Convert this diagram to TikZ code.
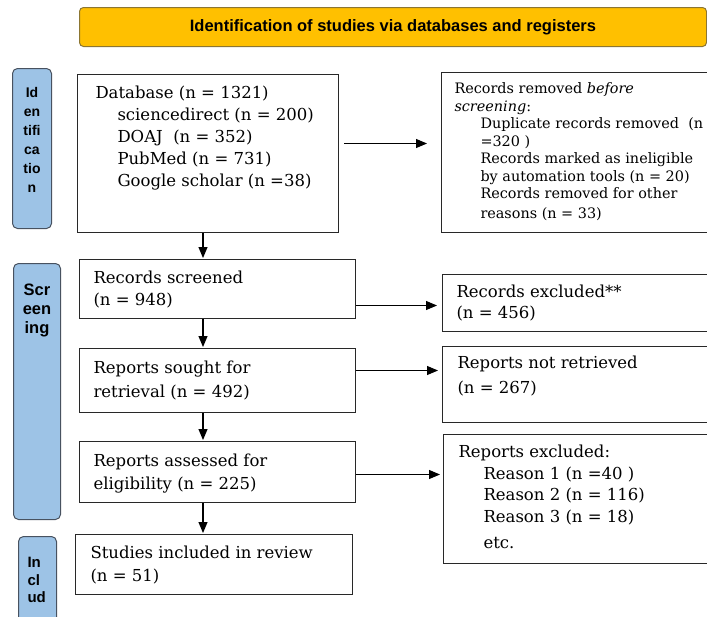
\documentclass[tikz,border=0pt]{standalone}
\usepackage{fontspec}
\setmainfont{DejaVu Serif}
\newfontfamily\labelfont{Liberation Sans}
\usetikzlibrary{arrows.meta}

\definecolor{headfill}{RGB}{255,192,0}
\definecolor{headline}{RGB}{140,118,50}
\definecolor{phasefill}{RGB}{157,195,230}
\definecolor{phaseline}{RGB}{72,82,96}
\definecolor{boxline}{RGB}{40,40,40}

\newcommand{\boxlines}[3]{\parbox[t][#2][t]{#1}{\raggedright\rule{0pt}{13pt}#3}}
\newcommand{\phaselines}[3]{\parbox[t][#2][t]{#1}{\centering\rule{0pt}{11pt}#3}}

\tikzset{
  headbox/.style={draw=headline, fill=headfill, line width=1pt, rounded corners=4pt,
    anchor=north west, inner sep=0pt, font=\labelfont\bfseries\fontsize{16.5}{20}\selectfont},
  phasebox/.style={draw=phaseline, fill=phasefill, line width=1pt, rounded corners=5pt,
    anchor=north west, inner xsep=0pt},
  flowbox/.style={draw=boxline, line width=1pt, anchor=north west,
    font=\fontsize{16.5}{22}\selectfont},
  flow/.style={-{Triangle[length=11pt,width=9pt]}, line width=1.1pt},
}

\begin{document}
\begin{tikzpicture}[x=1pt, y=-1pt]
    \useasboundingbox (0,0) rectangle (707,616);
    \clip (0,0) rectangle (707,616);
    \node [headbox, minimum width=627pt, minimum height=39pt] (head) at (79,7)
        {Identification of studies via databases and registers};
    \node [phasebox, inner ysep=18pt, font=\labelfont\bfseries\fontsize{14}{19}\selectfont] (ident) at (12,68)
        {\phaselines{39pt}{124pt}{Id\\en\\tifi\\ca\\tio\\n}};
    \node [phasebox, inner ysep=20pt, font=\labelfont\bfseries\fontsize{16.5}{19}\selectfont] (screen) at (13,263)
        {\phaselines{47pt}{216pt}{Scr\\een\\ing}};
    \node [phasebox, inner xsep=9pt, inner ysep=20pt, font=\labelfont\bfseries\fontsize{15}{17.5}\selectfont] (incl) at (18,536)
        {\phaselines{20pt}{54pt}{\raggedright In\\cl\\ud}};
    \node [flowbox, inner xsep=18pt, inner ysep=11pt] (db) at (77,74)
        {\boxlines{225pt}{136pt}{Database (n = 1321)\\
            \hspace*{22pt}sciencedirect (n = 200)\\
            \hspace*{22pt}DOAJ\ \ (n = 352)\\
            \hspace*{22pt}PubMed (n = 731)\\
            \hspace*{22pt}Google scholar (n =38)}};
    \node [flowbox, inner xsep=13pt, inner ysep=10pt, font=\fontsize{14.4}{17.5}\selectfont] (removed) at (441,72)
        {\parbox[t][140pt][t]{253pt}{\raggedright\rule{0pt}{11pt}Records removed \textit{before}\\
            \textit{screening}:\\
            \hspace*{26pt}Duplicate records removed\ \ (n\\
            \hspace*{26pt}=320 )\\
            \hspace*{26pt}Records marked as ineligible\\
            \hspace*{26pt}by automation tools (n = 20)\\
            \hspace*{26pt}Records removed for other\\[2.5pt]
            \hspace*{26pt}reasons (n = 33)}};
    \node [flowbox, inner xsep=14pt, inner ysep=11pt] (screened) at (79,259)
        {\boxlines{248pt}{37pt}{Records screened\\(n = 948)}};
    \node [flowbox, inner xsep=14pt, inner ysep=12pt] (sought) at (79,348)
        {\boxlines{248pt}{40pt}{Reports sought for\\[2pt]retrieval (n = 492)}};
    \node [flowbox, inner xsep=14pt, inner ysep=12pt] (assessed) at (79,441)
        {\boxlines{248pt}{37pt}{Reports assessed for\\[1pt]eligibility (n = 225)}};
    \node [flowbox, inner xsep=15pt, inner ysep=11pt] (included) at (75,534)
        {\boxlines{247pt}{38pt}{Studies included in review\\[1pt](n = 51)}};
    \node [flowbox, inner xsep=14pt, inner ysep=10pt] (excluded) at (442,274)
        {\boxlines{250pt}{37pt}{Records excluded**\\[-1pt](n = 456)}};
    \node [flowbox, inner xsep=15pt, inner ysep=9pt] (notretr) at (442,346)
        {\boxlines{248pt}{58pt}{Reports not retrieved\\[3pt](n = 267)}};
    \node [flowbox, inner xsep=15pt, inner ysep=10pt] (repexcl) at (443,434)
        {\boxlines{247pt}{109pt}{Reports excluded:\\
            \hspace*{25pt}Reason 1 (n =40 )\\[-1pt]
            \hspace*{25pt}Reason 2 (n = 116)\\
            \hspace*{25pt}Reason 3 (n = 18)\\[4pt]
            \hspace*{25pt}etc.}};
    \coordinate (spine) at (203,0);
    \draw [flow, shorten >=1pt] (db.south -| spine) -- (screened.north -| spine);
    \draw [flow, shorten >=1pt] (screened.south -| spine) -- (sought.north -| spine);
    \draw [flow, shorten >=1pt] (sought.south -| spine) -- (assessed.north -| spine);
    \draw [flow, shorten >=1pt] (assessed.south -| spine) -- (included.north -| spine);
    \draw [flow, shorten <=5pt, shorten >=14pt] ([yshift=10pt]db.east) -- ([yshift=10pt]db.east -| removed.west);
    \draw [flow, shorten >=5pt] ([yshift=-16.5pt]screened.east) -- ([yshift=-16.5pt]screened.east -| excluded.west);
    \draw [flow, shorten >=4pt] ([yshift=10pt]sought.east) -- ([yshift=10pt]sought.east -| notretr.west);
    \draw [flow, shorten >=3pt] ([yshift=-2.5pt]assessed.east) -- ([yshift=-2.5pt]assessed.east -| repexcl.west);
\end{tikzpicture}
\end{document}
